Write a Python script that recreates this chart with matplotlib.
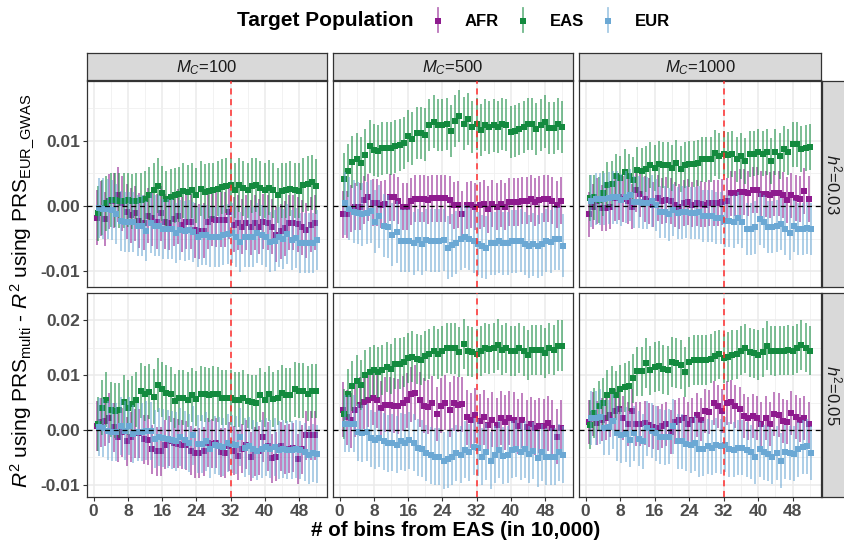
import matplotlib
matplotlib.use("Agg")
import matplotlib.pyplot as plt
import numpy as np
from matplotlib.lines import Line2D

plt.rcParams['font.family'] = ['Liberation Sans', 'DejaVu Sans']
plt.rcParams['mathtext.fontset'] = 'custom'
plt.rcParams['mathtext.rm'] = 'Liberation Sans'
plt.rcParams['mathtext.it'] = 'Liberation Sans:italic'
plt.rcParams['mathtext.bf'] = 'Liberation Sans:bold'

# ---------------- data (values in units of 1e-3) ----------------
bins = list(range(1, 53))
populations = ["AFR", "EAS", "EUR"]
mc_labels = ["100", "500", "1000"]
h2_labels = ["0.03", "0.05"]
xticks = [0, 8, 16, 24, 32, 40, 48]
yticks_top = [-0.01, 0.00, 0.01]
yticks_bottom = [-0.01, 0.00, 0.01, 0.02]
cutoff_bin = 32

# h2 = 0.03
afr_m100_h03 = [-1.8,-0.4,-2.0,0.7,0.8,1.7,0.4,-0.9,-1.4,-1.1,-2.3,-2.6,-1.5,-1.9,-2.4,-1.1,-2.4,-2.6,-2.0,-1.6,
                -2.9,-2.4,-2.4,-3.7,-3.9,-3.8,-2.4,-2.0,-2.1,-2.1,-2.1,-0.9,-2.9,-2.6,-3.2,-2.6,-3.3,-2.6,-3.2,-2.4,
                -2.6,-3.2,-4.4,-3.9,-3.4,-2.6,-2.6,-2.8,-3.3,-3.7,-2.9,-2.6]
eas_m100_h03 = [-1.1,-0.3,0.4,0.9,0.9,0.8,0.8,0.9,0.7,0.8,0.9,1.1,1.7,2.4,3.1,1.9,1.1,1.4,1.6,1.8,
                2.3,2.1,2.4,1.6,2.6,2.2,2.3,2.4,2.6,2.9,3.1,3.2,2.4,3.2,2.7,2.4,3.1,3.2,2.7,2.4,
                2.8,2.4,1.6,2.3,2.4,2.6,2.4,2.3,3.2,3.4,3.6,3.0]
eur_m100_h03 = [-0.3,-0.4,-0.5,-0.6,-1.3,-2.3,-2.4,-2.5,-2.4,-3.0,-3.0,-3.9,-2.6,-3.0,-3.0,-3.5,-3.5,-3.5,-4.2,-3.7,
                -3.8,-3.7,-4.0,-4.7,-4.5,-4.5,-4.7,-4.7,-4.7,-4.5,-4.3,-4.2,-4.7,-5.5,-4.8,-4.7,-4.8,-4.2,-4.4,-4.7,
                -5.5,-5.3,-4.8,-5.0,-4.3,-5.2,-4.9,-5.7,-5.7,-5.7,-5.7,-5.2]
afr_m500_h03 = [-1.3,-1.3,-0.4,-0.1,-0.1,0.9,1.3,0.5,0.5,0.2,0.3,1.3,1.3,0.8,-0.1,-0.1,0.7,1.1,1.1,1.1,
                0.9,1.2,1.2,1.2,1.2,0.9,0.1,0.2,-1.3,0.1,0.2,-0.1,0.1,0.3,-0.5,0.3,-0.1,0.3,-0.1,0.6,
                0.6,0.6,0.8,0.8,1.1,0.6,0.9,1.1,1.1,0.8,0.2,0.8]
eas_m500_h03 = [4.1,5.4,6.7,7.1,6.5,7.8,9.1,8.5,8.4,8.8,8.9,8.8,9.1,9.3,9.6,10.7,10.3,11.2,11.2,10.9,
                12.4,12.9,12.4,12.4,12.5,11.5,13.0,13.8,12.6,13.3,12.1,12.5,11.6,12.4,12.0,12.3,12.1,12.5,12.4,11.3,
                11.5,11.8,12.1,12.5,12.5,11.8,12.4,12.9,11.9,11.9,12.5,12.1]
eur_m500_h03 = [0.4,-0.4,-0.9,-1.1,-1.3,-1.1,-0.8,-2.4,-1.6,-3.0,-3.2,-4.4,-4.0,-5.3,-5.3,-5.3,-5.7,-5.2,-5.8,-5.2,
                -5.3,-5.3,-5.3,-5.2,-6.4,-6.0,-5.6,-5.0,-4.7,-5.0,-5.4,-5.8,-6.2,-6.4,-5.7,-5.7,-5.4,-5.7,-5.7,-5.4,
                -5.4,-5.3,-5.8,-6.2,-5.9,-6.2,-5.9,-5.3,-5.5,-5.0,-5.0,-6.1]
afr_m1000_h03 = [-1.3,-0.1,0.7,-0.3,-0.3,-0.1,1.2,1.4,1.1,0.8,-0.1,2.5,1.8,1.1,0.7,0.2,1.2,0.7,0.9,0.8,
                 0.2,-0.1,0.4,0.6,0.2,0.4,0.3,0.2,0.4,0.4,0.4,0.6,0.8,1.9,1.9,2.1,2.1,1.9,2.4,2.4,
                 1.8,1.8,1.7,1.9,1.9,1.7,0.9,1.6,1.2,1.1,2.3,1.1]
eas_m1000_h03 = [1.2,1.3,0.9,1.9,3.2,3.3,4.5,4.2,5.2,4.5,4.0,5.5,5.3,5.7,6.3,5.8,6.4,6.2,6.2,5.8,
                 6.6,5.7,6.3,6.4,6.4,6.6,7.1,7.1,7.1,8.1,7.6,8.0,7.8,7.9,7.1,7.6,6.9,7.9,8.0,8.3,
                 8.0,8.3,6.9,8.3,7.6,8.7,8.2,9.4,9.4,8.7,8.9,9.0]
eur_m1000_h03 = [0.8,1.1,1.1,1.1,1.2,1.3,1.3,0.9,1.4,1.7,0.6,0.6,0.4,0.4,0.7,0.1,-0.9,-0.9,-1.3,-0.6,
                 -1.1,-1.0,-0.9,-1.1,-1.1,-1.0,-1.5,-1.5,-1.5,-1.8,-1.9,-2.3,-2.3,-2.4,-1.8,-2.4,-3.5,-3.5,-3.3,-2.0,
                 -2.4,-3.2,-3.2,-3.1,-2.8,-3.5,-4.2,-3.1,-3.5,-3.5,-3.4,-3.5]
# h2 = 0.05
afr_m100_h05 = [0.7,1.4,1.6,2.2,0.5,-1.3,-0.4,-2.1,-1.3,-0.6,-0.6,-1.7,-1.8,-3.5,-3.9,-3.9,-2.7,-2.0,-2.4,-2.5,
                -2.7,-2.8,-3.8,-4.2,-4.2,-3.9,-2.3,-2.5,-2.4,-4.1,-4.2,-3.0,-3.8,-4.7,-3.4,-2.7,-4.9,-3.9,-3.8,-1.3,
                -3.0,-5.2,-4.9,-3.0,-3.5,-3.4,-3.2,-5.3,-3.5,-1.0,-1.0,-1.0]
eas_m100_h05 = [1.1,4.1,5.5,3.7,3.5,3.6,5.1,4.1,4.8,5.5,7.2,6.6,7.0,6.1,8.2,7.4,6.8,6.5,5.3,5.9,
                5.9,5.5,6.4,5.7,6.6,6.5,6.4,6.6,6.5,5.9,5.9,5.9,5.5,5.5,5.9,5.3,5.1,5.0,6.4,5.5,
                6.6,5.6,5.9,6.8,6.3,6.4,7.4,7.2,7.2,6.6,7.1,7.1]
eur_m100_h05 = [0.5,0.3,-0.1,-0.4,-0.4,0.7,-0.1,0.7,-0.7,-0.4,-0.3,-0.1,-0.2,-1.6,-1.3,-1.4,-1.6,-1.9,-2.1,-1.3,
                -1.8,-2.4,-1.0,-2.5,-2.5,-2.1,-3.5,-2.7,-3.0,-3.1,-2.3,-2.5,-2.8,-1.2,-3.2,-3.0,-3.5,-3.8,-3.4,-3.1,
                -3.4,-3.1,-3.6,-3.5,-3.6,-3.6,-3.4,-3.6,-4.1,-4.5,-4.2,-4.4]
afr_m500_h05 = [3.7,2.3,1.8,3.7,4.6,5.1,5.5,5.9,5.4,4.0,4.6,4.6,4.4,4.3,4.9,5.4,6.5,6.8,5.5,4.4,
                4.2,4.9,2.9,4.4,5.0,3.7,4.9,4.6,4.7,2.3,1.8,2.7,1.6,2.3,0.9,1.9,0.9,2.2,1.4,2.2,
                1.9,0.7,1.8,0.5,1.1,0.4,0.8,0.7,1.2,0.4,-1.2,0.4]
eas_m500_h05 = [2.9,6.6,8.0,9.0,8.2,10.0,10.5,10.9,10.5,10.9,11.5,11.1,12.1,12.1,12.4,13.1,13.4,13.0,12.8,13.5,
                13.9,14.4,13.9,14.4,15.0,14.9,14.9,14.2,15.7,14.4,14.2,13.9,14.4,15.0,14.8,15.0,15.6,14.6,15.0,14.4,
                14.4,15.0,14.4,13.7,14.6,14.6,14.6,14.0,14.9,14.6,15.4,15.4]
eur_m500_h05 = [1.1,1.1,1.1,-0.4,-0.6,-0.4,-1.5,-1.9,-1.5,-2.1,-2.4,-2.3,-2.7,-2.1,-2.3,-1.9,-2.3,-3.2,-3.4,-4.2,
                -4.6,-4.9,-4.9,-5.6,-5.3,-4.9,-4.2,-4.5,-3.6,-4.1,-3.1,-3.2,-4.9,-4.0,-5.6,-4.5,-3.6,-4.7,-4.5,-3.6,
                -3.4,-4.0,-3.5,-4.4,-3.8,-5.2,-4.1,-4.9,-4.9,-4.9,-4.1,-4.5]
afr_m1000_h05 = [1.4,2.9,1.2,1.9,2.1,2.7,3.5,3.9,2.2,1.1,3.5,1.1,1.1,1.2,0.9,0.5,0.3,0.7,1.1,-0.3,
                 1.4,1.8,2.1,1.1,1.8,2.7,1.9,3.5,3.3,4.9,4.3,3.5,4.9,5.1,4.3,3.8,2.5,2.1,2.5,2.2,
                 1.1,2.2,1.1,2.9,2.7,1.6,1.4,3.1,2.3,1.8,2.2,1.1]
eas_m1000_h05 = [1.0,3.1,4.4,5.0,6.4,7.1,6.3,7.4,7.8,8.0,9.4,10.7,10.7,12.2,10.9,11.5,11.7,11.1,10.9,12.4,
                 12.2,11.9,10.6,12.4,12.8,12.8,12.8,12.8,13.0,13.5,13.8,13.1,13.3,13.7,13.8,14.5,14.9,14.2,14.0,13.7,
                 14.2,15.4,14.5,14.4,14.5,14.5,14.6,14.5,14.9,15.5,15.0,14.5]
eur_m1000_h05 = [2.2,2.2,2.4,0.4,0.5,1.6,-0.6,-1.0,-0.8,-1.8,-0.6,-1.6,-2.1,0.3,-0.1,-0.6,-1.2,-1.3,-1.2,0.7,
                 -2.1,-2.1,-2.5,-2.8,-2.4,-3.5,-3.4,-3.0,-3.2,-2.8,-3.0,-2.7,-3.5,-3.6,-3.2,-3.2,-3.6,-4.0,-4.9,-3.5,
                 -4.1,-4.3,-4.9,-4.2,-5.6,-4.0,-4.2,-4.3,-3.5,-3.1,-3.0,-4.2]

# approximate error-bar half widths (1e-3) per panel, order AFR, EAS, EUR
halfwidth_h03 = [[4.2, 4.2, 4.6], [3.6, 4.0, 4.8], [3.5, 3.5, 4.0]]
halfwidth_h05 = [[4.5, 5.0, 5.3], [5.0, 4.6, 5.2], [4.0, 4.5, 5.0]]

series = {
    (0, 0): [afr_m100_h03, eas_m100_h03, eur_m100_h03],
    (0, 1): [afr_m500_h03, eas_m500_h03, eur_m500_h03],
    (0, 2): [afr_m1000_h03, eas_m1000_h03, eur_m1000_h03],
    (1, 0): [afr_m100_h05, eas_m100_h05, eur_m100_h05],
    (1, 1): [afr_m500_h05, eas_m500_h05, eur_m500_h05],
    (1, 2): [afr_m1000_h05, eas_m1000_h05, eur_m1000_h05],
}
halfwidths = {0: halfwidth_h03, 1: halfwidth_h05}

# ---------------- style ----------------
point_colors = {"AFR": "#8E1A8E", "EAS": "#138A3E", "EUR": "#6BA8D4"}
dodge = {"AFR": -0.3, "EAS": 0.0, "EUR": 0.3}
tick_color = "#4D4D4D"
border_color = "#333333"

W, H = 845, 542
fig = plt.figure(figsize=(W / 100, H / 100), dpi=100)
fig.patch.set_facecolor("white")

def px_axes(x0, y0, x1, y1):
    return fig.add_axes([x0 / W, 1 - y1 / H, (x1 - x0) / W, (y1 - y0) / H])

panel_x = [(87, 327), (333, 573), (579, 821)]
panel_y = [(81, 287), (293, 497)]
ylims = [(-0.0124, 0.0191), (-0.01223, 0.02194)]
yticks = [yticks_top, yticks_bottom]
x = np.array(bins, dtype=float)

for r in range(2):
    for c in range(3):
        x0, x1 = panel_x[c]
        y0, y1 = panel_y[r]
        ax = px_axes(x0, y0, x1, y1)
        ax.set_facecolor("white")
        ax.set_xlim(x[0] - 0.05 * (x[-1] - x[0]), x[-1] + 0.05 * (x[-1] - x[0]))
        ax.set_ylim(*ylims[r])
        ax.set_xticks(xticks)
        ax.set_xticks([t + 4 for t in xticks], minor=True)
        ax.set_yticks(yticks[r])
        ax.set_yticks([t + 0.005 for t in yticks[r]], minor=True)
        ax.grid(which="major", color="#EBEBEB", lw=1.1)
        ax.grid(which="minor", color="#F0F0F0", lw=0.6)
        ax.set_axisbelow(True)
        for s in ax.spines.values():
            s.set_color(border_color)
            s.set_linewidth(0.9)
        ax.tick_params(which="minor", length=0)
        ax.tick_params(which="major", length=3, color=border_color, width=0.8,
                       labelsize=12.5, labelcolor=tick_color, pad=2)
        if c == 0:
            ax.set_yticklabels(["%.2f" % t for t in yticks[r]], fontweight="bold")
        else:
            ax.tick_params(axis="y", which="major", length=0, labelleft=False)
        if r == 1:
            ax.set_xticklabels([str(t) for t in xticks], fontweight="bold")
        else:
            ax.tick_params(axis="x", which="major", length=0, labelbottom=False)

        for k, pop in enumerate(populations):
            y = np.array(series[(r, c)][k]) * 1e-3
            hw = halfwidths[r][c][k] * 1e-3
            xd = x + dodge[pop]
            ax.vlines(xd, y - hw, y + hw, color=point_colors[pop], alpha=0.6, lw=1.3, zorder=2 + k)
            ax.plot(xd, y, "s", color=point_colors[pop], ms=4.0, mew=0, zorder=2.5 + k)

        ax.axhline(0, color="black", lw=0.9, ls=(0, (4, 3)), zorder=10)
        ax.axvline(cutoff_bin, color="#FF2A2A", lw=1.1, ls=(0, (4, 3)), zorder=10)

# top strips
for c in range(3):
    x0, x1 = panel_x[c]
    sax = px_axes(x0, 53, x1, 80)
    sax.set_xticks([]); sax.set_yticks([])
    sax.set_facecolor("#D9D9D9")
    for s in sax.spines.values():
        s.set_color(border_color); s.set_linewidth(0.9)
    sax.text(0.5, 0.45, r"$M_C$=" + mc_labels[c], ha="center", va="center",
             fontsize=12, color="#1A1A1A", transform=sax.transAxes)

# right strips
for r in range(2):
    y0, y1 = panel_y[r]
    sax = px_axes(822, y0, 848, y1)
    sax.set_xticks([]); sax.set_yticks([])
    sax.set_facecolor("#D9D9D9")
    for s in sax.spines.values():
        s.set_color(border_color); s.set_linewidth(0.9)
    sax.text(0.45, 0.5, r"$h^2$=" + h2_labels[r], ha="center", va="center", rotation=-90,
             fontsize=12, color="#1A1A1A", transform=sax.transAxes)

# axis titles
fig.text(456 / W, 1 - 530 / H, "# of bins from EAS (in 10,000)", ha="center", va="center",
         fontsize=14.8, fontweight="bold", color="black")
fig.text(22 / W, 1 - 291 / H,
         r"$R^2$ using PRS$_{\mathrm{multi}}$ - $R^2$ using PRS$_{\mathrm{EUR\_GWAS}}$",
         ha="center", va="center", rotation=90, fontsize=15, color="black")

# legend
fig.text(237 / W, 1 - 21 / H, "Target Population", ha="left", va="center",
         fontsize=15, fontweight="bold", color="black")
legend_key_x = [438, 523, 608]
for k, pop in enumerate(populations):
    kx = legend_key_x[k] / W
    fig.add_artist(Line2D([kx, kx], [1 - 8 / H, 1 - 32 / H], color=point_colors[pop], alpha=0.6,
                          lw=1.3, transform=fig.transFigure))
    fig.add_artist(Line2D([kx], [1 - 21 / H], marker="s", ms=4.5, mew=0, color=point_colors[pop],
                          transform=fig.transFigure))
    fig.text((legend_key_x[k] + 27) / W, 1 - 21 / H, pop, ha="left", va="center",
             fontsize=12, fontweight="bold", color="black")

fig.savefig("out.png", dpi=100, facecolor="white")
